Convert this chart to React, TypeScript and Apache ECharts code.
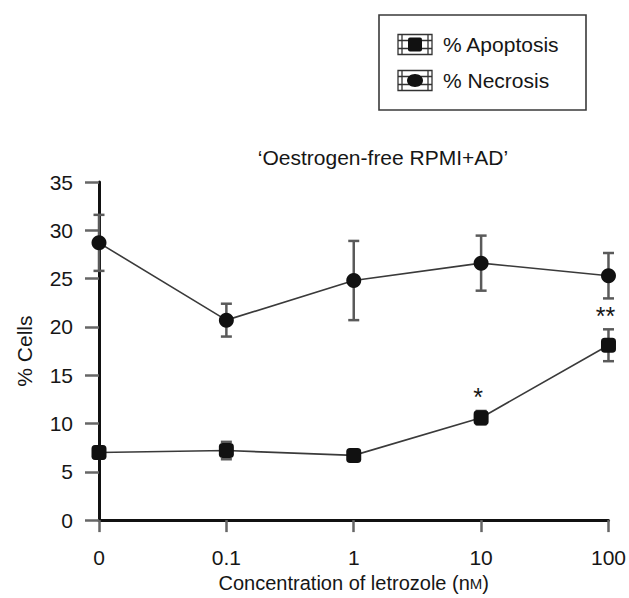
import React, { useEffect, useRef } from "react";
import * as echarts from "echarts";

const categories = ["0", "0.1", "1", "10", "100"];
const necrosis = [28.7, 20.7, 24.8, 26.6, 25.3];
const necrosisErr = [2.9, 1.7, 4.1, 2.85, 2.35];
const apoptosis = [7.0, 7.2, 6.7, 10.6, 18.1];
const apoptosisErr = [0.6, 0.9, 0.5, 0.7, 1.65];
const apoptosisSig = ["", "", "", "*", "**"];
const yTicks = [0, 35, 5];

const FONT = "'Liberation Sans', Arial, Helvetica, sans-serif";
const TEXT = "#161616";

function errData(vals: number[], errs: number[]) {
  return vals.map((v, i) => [i, v - errs[i], v + errs[i]]);
}

function errRender(params: any, api: any) {
  const i = api.value(0);
  const lo = api.coord([i, api.value(1)]);
  const hi = api.coord([i, api.value(2)]);
  const cw = 5.5;
  const style = { stroke: "#5a5a5a", lineWidth: 2.5 };
  return {
    type: "group",
    children: [
      { type: "line", shape: { x1: lo[0], y1: lo[1], x2: hi[0], y2: hi[1] }, style },
      { type: "line", shape: { x1: hi[0] - cw, y1: hi[1], x2: hi[0] + cw, y2: hi[1] }, style },
      { type: "line", shape: { x1: lo[0] - cw, y1: lo[1], x2: lo[0] + cw, y2: lo[1] }, style },
    ],
  };
}

function legendIcon(cx: number, cy: number, marker: "square" | "circle") {
  const w = 34;
  const h = 20;
  const x0 = cx - w / 2;
  const y0 = cy - h / 2;
  const s = { stroke: "#333", lineWidth: 1.3, fill: "none" };
  const children: any[] = [
    { type: "rect", shape: { x: x0, y: y0, width: w, height: h }, style: s },
    { type: "line", shape: { x1: x0, y1: cy - 4, x2: x0 + w, y2: cy - 4 }, style: s },
    { type: "line", shape: { x1: x0, y1: cy + 4, x2: x0 + w, y2: cy + 4 }, style: s },
    { type: "line", shape: { x1: x0 + 4, y1: y0, x2: x0 + 4, y2: y0 + h }, style: s },
    { type: "line", shape: { x1: x0 + w - 4, y1: y0, x2: x0 + w - 4, y2: y0 + h }, style: s },
  ];
  if (marker === "square") {
    children.push({ type: "rect", shape: { x: cx - 7, y: cy - 7, width: 14, height: 14, r: 2 }, style: { fill: "#111" } });
  } else {
    children.push({ type: "ellipse", shape: { cx, cy, rx: 8, ry: 6.5 }, style: { fill: "#111" } });
  }
  return { type: "group", children };
}

export default function App() {
  const ref = useRef<HTMLDivElement>(null);
  useEffect(() => {
    if (!ref.current) return;
    const chart = echarts.init(ref.current, null, { renderer: "svg" });
    const sigData = apoptosis
      .map((v, i) => [i, v + apoptosisErr[i]])
      .filter((_, i) => apoptosisSig[i] !== "");
    const sigIdx = apoptosisSig.map((s, i) => (s !== "" ? i : -1)).filter((i) => i >= 0);
    chart.setOption({
      animation: false,
      backgroundColor: "#ffffff",
      textStyle: { fontFamily: FONT },
      title: {
        text: "\u2018Oestrogen-free RPMI+AD\u2019",
        left: 383,
        top: 147,
        textAlign: "center",
        padding: 0,
        textStyle: { fontSize: 21, fontWeight: "normal", color: TEXT, fontFamily: FONT },
      },
      graphic: [
        {
          type: "rect",
          shape: { x: 379, y: 15, width: 207, height: 95 },
          style: { fill: "#fff", stroke: "#3a3a3a", lineWidth: 1.6 },
        },
        legendIcon(415, 44.5, "square"),
        legendIcon(415, 80.5, "circle"),
        {
          type: "text",
          x: 443,
          y: 44.5,
          style: { text: "% Apoptosis", font: `21px ${FONT}`, fill: TEXT, textVerticalAlign: "middle" },
        },
        {
          type: "text",
          x: 443,
          y: 80.5,
          style: { text: "% Necrosis", font: `21px ${FONT}`, fill: TEXT, textVerticalAlign: "middle" },
        },
      ],
      grid: { left: 99, right: 17, top: 182, bottom: 71, containLabel: false },
      xAxis: {
        type: "category",
        data: categories,
        boundaryGap: false,
        name: "Concentration of letrozole (n{sc|M})",
        nameLocation: "middle",
        nameGap: 51,
        nameTextStyle: {
          fontSize: 20,
          color: TEXT,
          fontFamily: FONT,
          rich: { sc: { fontSize: 15, color: TEXT, fontFamily: FONT } },
        },
        axisLine: { lineStyle: { color: "#111", width: 3 } },
        axisTick: { show: true, inside: false, length: 12, alignWithLabel: true, lineStyle: { color: "#666", width: 2.5 } },
        axisLabel: { fontSize: 21, color: TEXT, margin: 27, fontFamily: FONT },
        splitLine: { show: false },
      },
      yAxis: {
        type: "value",
        min: yTicks[0],
        max: yTicks[1],
        interval: yTicks[2],
        name: "% Cells",
        nameLocation: "middle",
        nameRotate: 90,
        nameGap: 64,
        nameTextStyle: { fontSize: 21, color: TEXT, fontFamily: FONT },
        axisLine: { show: true, lineStyle: { color: "#111", width: 3 } },
        axisTick: { show: true, length: 14, lineStyle: { color: "#666", width: 2.5 } },
        axisLabel: { fontSize: 21, color: TEXT, margin: 26, fontFamily: FONT },
        splitLine: { show: false },
      },
      series: [
        {
          name: "necrosisErr",
          type: "custom",
          renderItem: errRender,
          data: errData(necrosis, necrosisErr),
          z: 3,
          silent: true,
        },
        {
          name: "apoptosisErr",
          type: "custom",
          renderItem: errRender,
          data: errData(apoptosis, apoptosisErr),
          z: 3,
          silent: true,
        },
        {
          name: "% Apoptosis",
          type: "line",
          data: apoptosis,
          symbol: "roundRect",
          symbolSize: 15,
          itemStyle: { color: "#111" },
          lineStyle: { color: "#3a3a3a", width: 1.6 },
          z: 4,
        },
        {
          name: "% Necrosis",
          type: "line",
          data: necrosis,
          symbol: "circle",
          symbolSize: 15,
          itemStyle: { color: "#111" },
          lineStyle: { color: "#3a3a3a", width: 1.6 },
          z: 4,
        },
        {
          name: "significance",
          type: "custom",
          renderItem: (params: any, api: any) => {
            const idx = sigIdx[params.dataIndex];
            const p = api.coord([api.value(0), api.value(1)]);
            return {
              type: "text",
              x: p[0] - 3,
              y: p[1] - 1,
              style: {
                text: apoptosisSig[idx],
                fill: TEXT,
                font: `25px ${FONT}`,
                textAlign: "center",
                textVerticalAlign: "bottom",
                letterSpacing: 2,
              },
            };
          },
          data: sigData,
          z: 5,
          silent: true,
        },
      ],
    });
    return () => chart.dispose();
  }, []);
  return (
    <div
      ref={ref}
      style={{ position: "fixed", left: 0, top: 0, width: 629, height: 598, background: "#fff" }}
    />
  );
}
